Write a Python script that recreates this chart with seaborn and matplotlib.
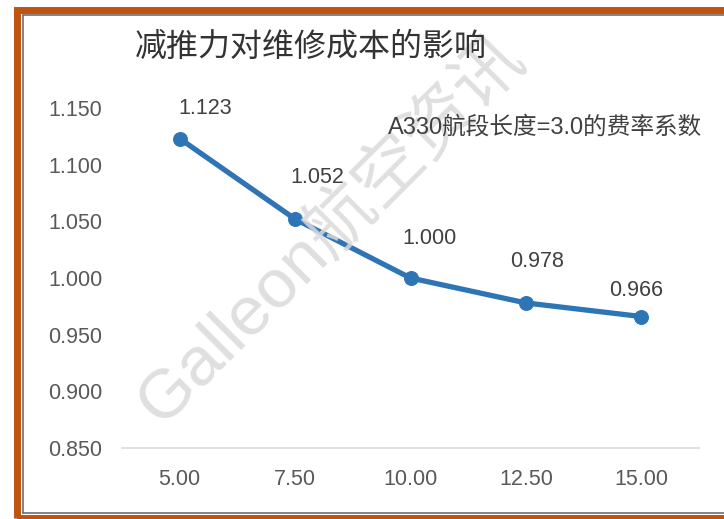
import matplotlib
matplotlib.use("Agg")
import matplotlib.pyplot as plt
import seaborn as sns
import pandas as pd
from matplotlib.patches import Rectangle
from matplotlib.lines import Line2D

# ---- data ----
x_labels = ["5.00", "7.50", "10.00", "12.50", "15.00"]
values = [1.123, 1.052, 1.000, 0.978, 0.966]
y_ticks = [0.85, 0.90, 0.95, 1.00, 1.05, 1.10, 1.15]
title = "减推力对维修成本的影响"
note = "A330航段长度=3.0的费率系数"
watermark = "Galleon航空资讯"

# label offsets in pixels (dx, dy) – layout only
label_dx = [25, 22, 19, 11, -5]
label_dy = [30, 42, 40, 41, 26]

sns.set_theme(style="white")
plt.rcParams["font.family"] = ["Liberation Sans", "Noto Sans CJK SC", "DejaVu Sans"]

W, H = 724, 519
fig = plt.figure(figsize=(W / 100, H / 100), dpi=100)
fig.patch.set_facecolor("white")

ax = fig.add_axes([122 / W, 71 / H, 577 / W, 340 / H])
ax.set_facecolor("white")

df = pd.DataFrame({"x": x_labels, "y": values})
blue = "#2E75B6"
sns.lineplot(data=df, x="x", y="y", ax=ax, sort=False, color=blue, linewidth=3.8,
             marker="o", markersize=10, markeredgecolor=blue, markerfacecolor=blue,
             zorder=5)

ax.set_xlim(-0.5, len(x_labels) - 0.5)
ax.set_ylim(0.85, 1.15)
ax.set_yticks(y_ticks)
ax.set_yticklabels([f"{t:.3f}" for t in y_ticks])
ax.set_xlabel("")
ax.set_ylabel("")
ax.tick_params(axis="both", length=0, colors="#595959", labelsize=15.5)
ax.tick_params(axis="y", pad=14)
ax.tick_params(axis="x", pad=15)
for s in ["top", "right", "left"]:
    ax.spines[s].set_visible(False)
ax.spines["bottom"].set_color("#D9D9D9")
ax.spines["bottom"].set_linewidth(1.2)
ax.grid(False)

for i, v in enumerate(values):
    ax.annotate(f"{v:.3f}", xy=(i, v), xytext=(label_dx[i] * 0.72, label_dy[i] * 0.72),
                textcoords="offset points", ha="center", va="center",
                fontsize=15.5, color="#404040", zorder=6, annotation_clip=False)

fig.text(135 / W, 1 - 47 / H, title, ha="left", va="center", fontsize=23,
         color="#333333", family=["Noto Sans CJK SC", "DejaVu Sans"])
fig.text(388 / W, 1 - 127 / H, note, ha="left", va="center", fontsize=17,
         color="#404040", family=["Liberation Sans", "Noto Sans CJK SC", "DejaVu Sans"])

# watermark
fig.text(330 / W, 1 - 230 / H, watermark, ha="center", va="center", fontsize=50,
         rotation=45, color="#DADADA", alpha=0.85, zorder=0,
         family=["Liberation Sans", "Noto Sans CJK SC", "DejaVu Sans"])

# frame
orange = "#C0530F"
fig.add_artist(Rectangle((17 / W, 517 / H * 0 + (1 - 518 / H)), (W + 50) / W, (518 - 9.5) / H,
                         transform=fig.transFigure, fill=False, edgecolor=orange,
                         linewidth=5, zorder=10))
fig.add_artist(Line2D([22.5 / W, 22.5 / W], [1 - 513 / H, 1 - 15 / H], transform=fig.transFigure,
                      color="#707070", linewidth=1.2, zorder=10))
fig.add_artist(Line2D([22.5 / W, 1.0], [1 - 15 / H, 1 - 15 / H], transform=fig.transFigure,
                      color="#707070", linewidth=1.2, zorder=10))
fig.add_artist(Line2D([22.5 / W, 1.0], [1 - 513 / H, 1 - 513 / H], transform=fig.transFigure,
                      color="#707070", linewidth=1.2, zorder=10))

fig.savefig("out.png", dpi=100, facecolor="white")
